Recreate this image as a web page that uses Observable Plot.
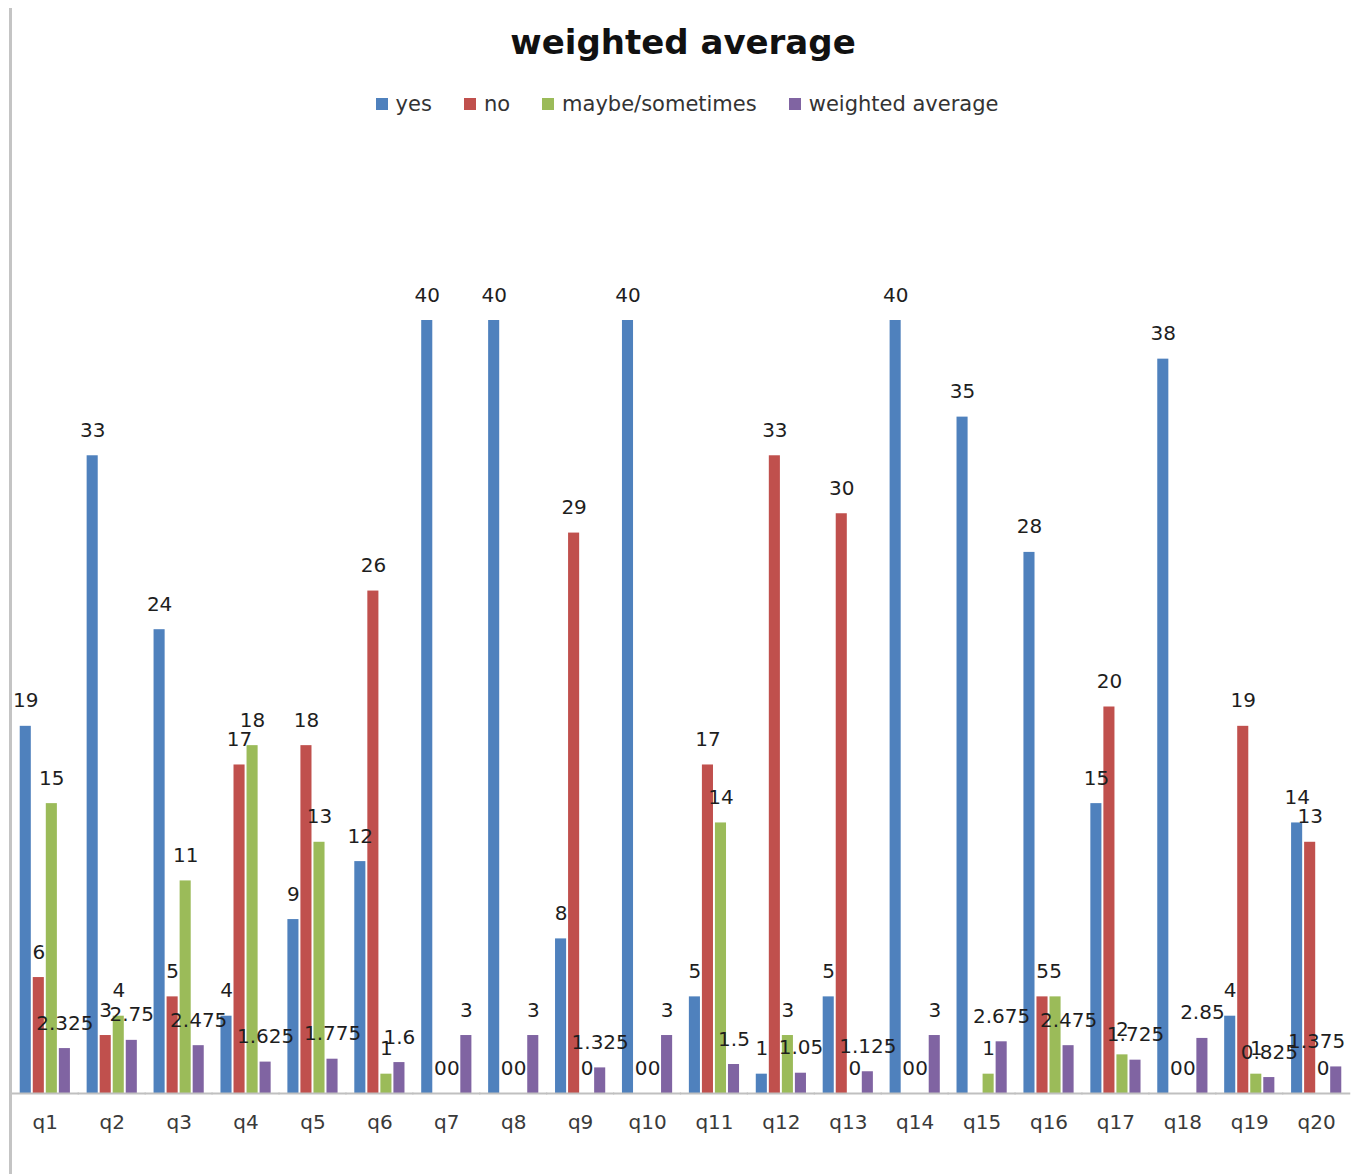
<!DOCTYPE html>
<html><head><meta charset="utf-8">
<script src="https://cdn.jsdelivr.net/npm/d3@7"></script>
<script src="https://cdn.jsdelivr.net/npm/@observablehq/plot@0.6"></script>
<style>
body{margin:0;background:#fff;font-family:"DejaVu Sans",sans-serif;}
#wrap{position:relative;width:1358px;height:1174px;overflow:hidden;background:#fff;}
#vline{position:absolute;left:9px;top:8px;width:3px;height:1166px;background:#c4c4c4;}
#title{position:absolute;top:23px;left:0;width:1366px;text-align:center;font-weight:bold;font-size:34px;line-height:38px;color:#111;}
#legend{position:absolute;top:92px;left:0;width:1374px;display:flex;justify-content:center;align-items:center;font-size:21px;line-height:24px;color:#333;}
#legend .item{display:flex;align-items:center;margin:0 16px;}
#legend .sw{width:12px;height:12px;margin-right:8px;}
#chart{position:absolute;left:0;top:0;}
</style></head>
<body>
<div id="wrap">
  <div id="chart"></div>
  <div id="vline"></div>
  <div id="title">weighted average</div>
  <div id="legend"></div>
</div>
<script>
const questions = ["q1","q2","q3","q4","q5","q6","q7","q8","q9","q10","q11","q12","q13","q14","q15","q16","q17","q18","q19","q20"];
const seriesNames = ["yes","no","maybe/sometimes","weighted average"];
const colors = ["#4F81BD","#C0504D","#9BBB59","#8064A2"];
const yes = [19,33,24,4,9,12,40,40,8,40,5,1,5,40,35,28,15,38,4,14];
const no = [6,3,5,17,18,26,0,0,29,0,17,33,30,0,null,5,20,0,19,13];
const maybe = [15,4,11,18,13,1,0,0,0,0,14,3,0,0,1,5,2,0,1,0];
const weighted = [2.325,2.75,2.475,1.625,1.775,1.6,3,3,1.325,3,1.5,1.05,1.125,3,2.675,2.475,1.725,2.85,0.825,1.375];

const legend = document.getElementById("legend");
seriesNames.forEach((s, j) => {
  const it = document.createElement("div");
  it.className = "item";
  const sw = document.createElement("div");
  sw.className = "sw";
  sw.style.background = colors[j];
  const t = document.createElement("span");
  t.textContent = s;
  it.appendChild(sw); it.appendChild(t);
  legend.appendChild(it);
});

const seriesValues = [yes, no, maybe, weighted];
const data = [];
questions.forEach((q, i) => {
  seriesNames.forEach((s, j) => {
    const v = seriesValues[j][i];
    if (v !== null && v !== undefined) data.push({q, series: s, value: v});
  });
});
const lastQ = questions[questions.length - 1];
const lastS = seriesNames[seriesNames.length - 1];
const isEdge = d => d.q === lastQ && d.series === lastS;

const chart = Plot.plot({
  width: 1358,
  height: 1174,
  marginTop: 320,
  marginBottom: 81,
  marginLeft: 3,
  marginRight: 0,
  style: {fontFamily: "DejaVu Sans, sans-serif", background: "transparent"},
  fx: {domain: questions, paddingInner: 0.25, paddingOuter: 0.25, round: false, label: null},
  x: {domain: seriesNames, axis: null, paddingInner: 0.15, paddingOuter: 0, round: false},
  y: {domain: [0, 40], axis: null},
  color: {domain: seriesNames, range: colors},
  marks: [
    Plot.barY(data, {fx: "q", x: "series", y: "value", fill: "series"}),
    Plot.ruleY([0], {stroke: "#c0c0c0", strokeWidth: 2, insetLeft: -9, insetRight: -9}),
    Plot.text(data.filter(d => !isEdge(d)), {fx: "q", x: "series", y: "value", text: d => String(d.value),
      lineAnchor: "bottom", dy: -19, fontSize: 20, fill: "#1e1e1e"}),
    Plot.text(data.filter(isEdge), {fx: "q", x: "series", y: "value", text: d => String(d.value),
      lineAnchor: "bottom", textAnchor: "end", dx: 9, dy: -19, fontSize: 20, fill: "#1e1e1e"}),
    Plot.axisFx({anchor: "bottom", tickSize: 0, tickPadding: 21, fontSize: 20, fill: "#3a3a3a", label: null})
  ]
});
document.getElementById("chart").appendChild(chart);
</script>
</body></html>
